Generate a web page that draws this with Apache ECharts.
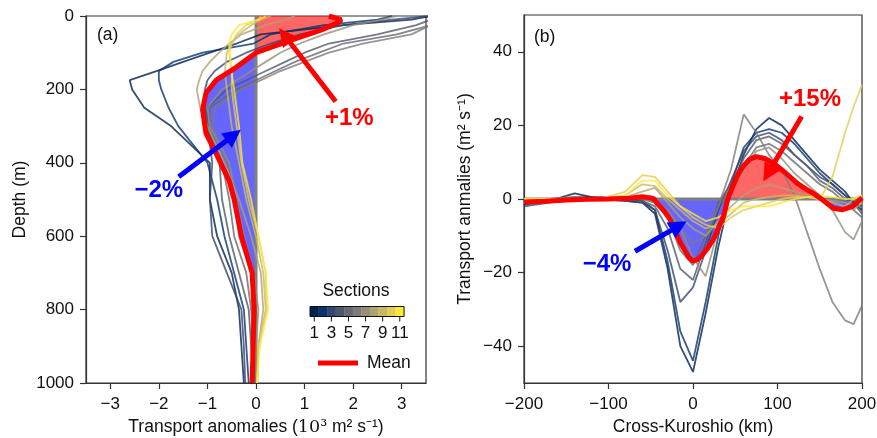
<!DOCTYPE html>
<html>
<head>
<meta charset="utf-8">
<script src="https://cdn.jsdelivr.net/npm/echarts@6/dist/echarts.min.js"></script>
<style>
  html, body { margin: 0; padding: 0; background: #fff; }
  #chart { width: 877px; height: 438px; }
</style>
</head>
<body>
<div id="chart"></div>
<script>
// ---- panel (a): depth profiles ----
var depthGrid = [0, 10, 25, 50, 75, 100, 125, 150, 175, 200, 250, 300, 400, 500, 600, 700, 800, 900, 1000]
// one row per section (1 .. 11), transport anomaly at each depth
var profilesA = [
  [3.6, 3.2, 1.8, 0.1, -0.4, -0.95, -1.5, -2.05, -2.6, -2.55, -2.3, -1.75, -0.95, -0.95, -0.8, -0.5, -0.35, -0.3, -0.25],
  [2.8, 2.5, 1.4, 0.3, -0.05, -1.1, -1.7, -2.0, -2.0, -1.95, -1.8, -1.6, -1.0, -0.8, -0.65, -0.45, -0.25, -0.2, -0.15],
  [3.6, 2.8, 1.8, 0.9, 0.3, -0.2, -0.6, -0.85, -1.0, -1.05, -1.05, -1.0, -0.9, -0.95, -0.9, -0.6, -0.3, -0.25, -0.22],
  [3.6, 3.6, 3.3, 2.5, 1.5, 1.0, 0.6, 0.2, -0.2, -0.6, -1.0, -1.0, -0.75, -0.7, -0.55, -0.35, -0.15, -0.1, -0.05],
  [3.6, 3.6, 3.6, 2.9, 1.8, 1.3, 0.8, 0.4, 0.0, -0.4, -0.95, -0.95, -0.7, -0.55, -0.45, -0.2, -0.1, -0.05, 0.0],
  [3.6, 3.6, 3.6, 3.2, 2.2, 1.5, 1.0, 0.5, 0.1, -0.3, -0.85, -0.9, -0.6, -0.45, -0.35, -0.1, 0.0, -0.05, 0.0],
  [2.9, 2.6, 2.0, 1.4, 0.9, 0.5, 0.2, -0.1, -0.4, -0.7, -1.0, -0.95, -0.55, -0.4, -0.25, -0.05, 0.05, 0.0, 0.02],
  [0.8, 0.6, 0.2, -0.3, -0.55, -0.76, -0.95, -1.1, -1.17, -1.22, -1.15, -1.0, -0.65, -0.35, -0.1, 0.1, 0.15, 0.05, 0.02],
  [0.3, 0.1, -0.1, -0.35, -0.5, -0.6, -0.62, -0.64, -0.62, -0.6, -0.55, -0.5, -0.35, -0.2, 0.0, 0.15, 0.2, 0.05, 0.03],
  [0.1, 0.05, -0.2, -0.4, -0.5, -0.55, -0.53, -0.5, -0.5, -0.5, -0.45, -0.4, -0.3, -0.15, 0.05, 0.2, 0.22, 0.05, 0.02],
  [0.2, 0.06, -0.35, -0.5, -0.55, -0.55, -0.52, -0.5, -0.48, -0.45, -0.4, -0.35, -0.28, -0.1, 0.05, 0.2, 0.25, 0.08, 0.02]
]
var meanDepthA = [0, 10, 16, 38, 65, 100, 140, 175, 210, 255, 320, 375, 450, 500, 600, 700, 800, 900, 1000]
var meanA = [1.5, 1.75, 1.72, 1.35, 0.74, 0.0, -0.41, -0.82, -1.03, -1.1, -1.03, -0.82, -0.55, -0.45, -0.3, -0.08, -0.04, -0.06, -0.08]

// ---- panel (b): cross-Kuroshio profiles ----
var crossGrid = [-200, -170, -140, -110, -80, -60, -45, -30, -15, 0, 15, 30, 45, 60, 75, 90, 105, 120, 135, 150, 165, 180, 190, 200]
var profilesB = [
  [-1.5, -0.5, 1.5, 0, -0.5, -1, -4, -19, -40, -47, -31, -13, 2, 12, 19, 22, 20, 16, 12, 8, 5, 2, -1, -3],
  [-1, -0.5, 0.5, 0.5, 0, -0.5, -3, -17, -36, -44, -28, -10, 4, 14, 18, 19, 18, 15, 11, 7, 4, 1, -1, -2],
  [-2, -1, 0, 0, -0.5, -1, -3, -14, -28, -24, -14, -3, 5, 13, 17, 18, 16, 12, 9, 6, 4, 1, -1, -4],
  [-1, -0.5, 0, 0, 0, -0.5, -2, -8, -19, -22, -12, -1, 4, 11, 16, 17, 15, 12, 9, 5, 3, 0, -1, -2],
  [-0.5, 0, 0.5, 0, 0, 0, -1, -5, -14, -18, -10, -2, 3, 9, 14, 15, 13, 10, 7, 4, 2, -1, -3, -5],
  [0, 0, 0, 0, 0, 0, -1, -4, -8, -12, -10, -2, 8, 23, 18, 12, 8, 1, -9, -19, -28, -33, -34, -29],
  [0, 0, 0.5, 0, 0, 0.5, -0.5, -3, -8, -16, -21, -8, 2, 8, 13, 14, 11, 7, 4, 1, -3, -9, -11, -6],
  [0, 0, 0, 0, 0.5, 2, 3, -1, -5, -8, -10, -6, -2, 1, 3, 4, 3, 2, 1, 0, -0.5, -1, -3, -1],
  [0, 0, 0, 0, 1, 4, 3.5, 0, -3, -6, -8, -7, -4, -1, 0, 0.5, 1, 1, 0.5, 0, -1, -2, 0, 1],
  [0, 0, 0, 0, 2, 6.5, 6, 2, -2, -5, -7, -8, -5, -3, -2, -1, 0, 0.5, 0.5, 0, 6, 18, 25, 31],
  [0, 0, 0, 0, 1, 5, 5, 1, -2, -4, -6, -5, -3, -2, -2, -2, -1, 0, 0.5, 1, 0.5, 0, 0, 1]
]
var meanXB = [-200, -175, -150, -125, -100, -75, -60, -50, -46, -43, -35, -27, -15, -5, 0, 5, 10, 17, 24, 30, 36, 41, 47, 53, 59, 67, 75, 85, 95, 110, 123, 135, 142, 152, 166, 177, 189, 200]
var meanB = [-0.8, -0.6, -0.3, -0.1, 0, 0.2, 0.6, 0.3, 0, -1.1, -3.0, -5.6, -11.9, -15.8, -16.9, -16.5, -15.5, -13.5, -11, -8, -4.7, 0, 3.4, 6.5, 8.8, 10.8, 11.5, 11, 9.8, 7.0, 4.3, 2.5, 1.6, 0, -2.5, -2.9, -2, 0.3]

var sectionTicks = ['1', '3', '5', '7', '9', '11']
var sectionColors = ['#00224e', '#083370', '#35456c', '#4f576c', '#666970', '#7d7c78',
  '#948f78', '#aea371', '#c8b866', '#e3cd54', '#fee838']

var font = '"Liberation Sans", Arial, sans-serif'
var tickSize = 17
var nameSize = 17.5
var minus = function(v) { return String(v).replace('-', '\u2212') }

function axisStyle(extra) {
  var base = {
    axisLine: { show: true, onZero: false, lineStyle: { color: '#333', width: 1.2 } },
    axisTick: { show: true, length: 6, lineStyle: { color: '#333', width: 1.2 } },
    axisLabel: { color: '#111', fontSize: tickSize, fontFamily: font, formatter: minus },
    splitLine: { show: false },
    nameLocation: 'middle',
    nameTextStyle: { color: '#111', fontSize: nameSize, fontFamily: font }
  }
  return Object.assign(base, extra)
}

// shaded areas between the mean and zero
function fillItem(pts, vertical) {
  return function(params, api) {
    var neg = [], pos = []
    pts.forEach(function(p) {
      if (vertical) {
        neg.push(api.coord([Math.min(p[0], 0), p[1]]))
        pos.push(api.coord([Math.max(p[0], 0), p[1]]))
      } else {
        neg.push(api.coord([p[0], Math.min(p[1], 0)]))
        pos.push(api.coord([p[0], Math.max(p[1], 0)]))
      }
    })
    var first = pts[0], last = pts[pts.length - 1]
    var closing = vertical
      ? [api.coord([0, last[1]]), api.coord([0, first[1]])]
      : [api.coord([last[0], 0]), api.coord([first[0], 0])]
    return {
      type: 'group',
      children: [
        { type: 'polygon', shape: { points: neg.concat(closing) }, style: { fill: 'rgba(0,0,255,0.6)' } },
        { type: 'polygon', shape: { points: pos.concat(closing) }, style: { fill: 'rgba(255,0,0,0.6)' } }
      ]
    }
  }
}

function arrow(from, to, color) {
  return [{ coord: from, symbol: 'none' }, { coord: to, symbol: 'triangle', lineStyle: { color: color } }]
}
function note(at, text, color) {
  return {
    coord: at, symbol: 'circle', symbolSize: 1, itemStyle: { color: 'rgba(0,0,0,0)' },
    label: { show: true, position: 'inside', formatter: text, color: color, fontSize: 24, fontWeight: 'bold', fontFamily: font }
  }
}

var meanPtsA = meanA.map(function(v, i) { return [v, meanDepthA[i]] })
var meanPtsB = meanB.map(function(v, i) { return [meanXB[i], v] })

var series = []
series.push({
  type: 'custom', xAxisIndex: 0, yAxisIndex: 0, z: 1, silent: true, clip: true,
  data: [[0, 0]], renderItem: fillItem(meanPtsA, true)
})
series.push({
  type: 'line', xAxisIndex: 0, yAxisIndex: 0, z: 2, silent: true, symbol: 'none',
  data: [[0, 0], [0, 1000]], lineStyle: { color: '#808080', width: 3 }
})
profilesA.forEach(function(row, k) {
  series.push({
    type: 'line', xAxisIndex: 0, yAxisIndex: 0, z: 3, silent: true, symbol: 'none',
    data: row.map(function(v, i) { return [v, depthGrid[i]] }),
    lineStyle: { color: sectionColors[k], width: 1.8, opacity: 0.8 }
  })
})
series.push({
  name: 'Mean', type: 'line', xAxisIndex: 0, yAxisIndex: 0, z: 4, silent: true, symbol: 'none',
  data: meanPtsA, color: '#ff0000', lineStyle: { color: '#ff0000', width: 5 },
  markLine: {
    silent: true, symbolSize: 18, label: { show: false },
    lineStyle: { width: 5, type: 'solid' },
    data: [arrow([1.64, 233], [0.59, 53], '#ff0000'), arrow([-1.59, 438], [-0.46, 325], '#0000ff')]
  },
  markPoint: {
    silent: true,
    data: [note([1.92, 278], '+1%', '#ff0000'), note([-2.0, 474], '\u22122%', '#0000ff')]
  }
})

series.push({
  type: 'custom', xAxisIndex: 1, yAxisIndex: 1, z: 1, silent: true, clip: true,
  data: [[0, 0]], renderItem: fillItem(meanPtsB, false)
})
series.push({
  type: 'line', xAxisIndex: 1, yAxisIndex: 1, z: 2, silent: true, symbol: 'none',
  data: [[-200, 0], [200, 0]], lineStyle: { color: '#808080', width: 3 }
})
profilesB.forEach(function(row, k) {
  series.push({
    type: 'line', xAxisIndex: 1, yAxisIndex: 1, z: 3, silent: true, symbol: 'none',
    data: row.map(function(v, i) { return [crossGrid[i], v] }),
    lineStyle: { color: sectionColors[k], width: 1.8, opacity: 0.8 }
  })
})
series.push({
  name: 'Mean', type: 'line', xAxisIndex: 1, yAxisIndex: 1, z: 4, silent: true, symbol: 'none',
  data: meanPtsB, color: '#ff0000', lineStyle: { color: '#ff0000', width: 5 },
  markLine: {
    silent: true, symbolSize: 18, label: { show: false },
    lineStyle: { width: 5, type: 'solid' },
    data: [arrow([128.6, 22.4], [88.6, 6.9], '#ff0000'), arrow([-68.6, -14.2], [-16.7, -7.3], '#0000ff')]
  },
  markPoint: {
    silent: true,
    data: [note([138.5, 27.2], '+15%', '#ff0000'), note([-101.8, -17.8], '\u22124%', '#0000ff')]
  }
})

// colorbar for the sections
var barLeft = 310, barTop = 306.5, cell = 8.55
var graphics = [{
  type: 'text', x: 356, y: 291,
  style: { text: 'Sections', fontSize: nameSize, fontFamily: font, fill: '#111', align: 'center', verticalAlign: 'middle' }
}]
sectionColors.forEach(function(c, i) {
  graphics.push({ type: 'rect', shape: { x: barLeft + i * cell, y: barTop, width: cell + 0.3, height: 10 }, style: { fill: c } })
})
graphics.push({ type: 'rect', shape: { x: barLeft, y: barTop, width: cell * 11, height: 10 }, style: { fill: 'none', stroke: '#111', lineWidth: 1 } })
sectionTicks.forEach(function(t, j) {
  var cx = barLeft + (2 * j + 0.5) * cell
  graphics.push({ type: 'line', shape: { x1: cx, y1: barTop + 10, x2: cx, y2: barTop + 15 }, style: { stroke: '#111', lineWidth: 1 } })
  graphics.push({ type: 'text', x: cx, y: 333.5, style: { text: t, fontSize: tickSize, fontFamily: font, fill: '#111', align: 'center', verticalAlign: 'middle' } })
})

var chart = echarts.init(document.getElementById('chart'), null, { renderer: 'canvas' })
chart.setOption({
  animation: false,
  textStyle: { fontFamily: font },
  title: [
    { text: '(a)', left: 92, top: 21, textStyle: { fontSize: nameSize, fontWeight: 'normal', color: '#111', fontFamily: font } },
    { text: '(b)', left: 529, top: 23, textStyle: { fontSize: nameSize, fontWeight: 'normal', color: '#111', fontFamily: font } }
  ],
  legend: {
    data: ['Mean'], left: 313, top: 349, icon: 'rect', itemWidth: 40, itemHeight: 5,
    selectedMode: false,
    textStyle: { fontSize: nameSize, fontFamily: font, color: '#111', padding: [0, 0, 0, 4] }
  },
  grid: [
    { left: 86, top: 16, width: 340, height: 367, show: true, borderColor: '#333', borderWidth: 1.2, outerBoundsMode: 'none', containLabel: false },
    { left: 524, top: 15, width: 338, height: 368, show: true, borderColor: '#333', borderWidth: 1.2, outerBoundsMode: 'none', containLabel: false }
  ],
  xAxis: [
    axisStyle({
      gridIndex: 0, type: 'value', min: -3.5, max: 3.5,
      axisLabel: { color: '#111', fontSize: tickSize, fontFamily: font, margin: 13, formatter: minus, customValues: [-3, -2, -1, 0, 1, 2, 3] },
      axisTick: { show: true, length: 6, lineStyle: { color: '#333', width: 1.2 }, customValues: [-3, -2, -1, 0, 1, 2, 3] },
      name: '{a|Transport anomalies (}{b|10\u00b3}{a| m\u00b2 s\u207b\u00b9)}',
      nameGap: 35,
      nameTextStyle: { rich: {
        a: { fontSize: nameSize, fontFamily: font, color: '#111' },
        b: { fontSize: nameSize, fontFamily: '"DejaVu Serif", "Liberation Serif", serif', color: '#111' }
      } }
    }),
    axisStyle({
      gridIndex: 1, type: 'value', min: -200, max: 200, interval: 100,
      axisLabel: { color: '#111', fontSize: tickSize, fontFamily: font, margin: 13, formatter: minus },
      name: 'Cross-Kuroshio (km)', nameGap: 35
    })
  ],
  yAxis: [
    axisStyle({
      gridIndex: 0, type: 'value', min: 0, max: 1000, interval: 200, inverse: true,
      axisLabel: { color: '#111', fontSize: tickSize, fontFamily: font, margin: 12, formatter: minus },
      name: 'Depth (m)', nameGap: 57
    }),
    axisStyle({
      gridIndex: 1, type: 'value', min: -50, max: 50,
      axisLabel: { color: '#111', fontSize: tickSize, fontFamily: font, margin: 12, formatter: minus, customValues: [-40, -20, 0, 20, 40] },
      axisTick: { show: true, length: 6, lineStyle: { color: '#333', width: 1.2 }, customValues: [-40, -20, 0, 20, 40] },
      name: 'Transport anmalies (m\u00b2 s\u207b\u00b9)', nameGap: 50
    })
  ],
  graphic: graphics,
  series: series
})
</script>
</body>
</html>
